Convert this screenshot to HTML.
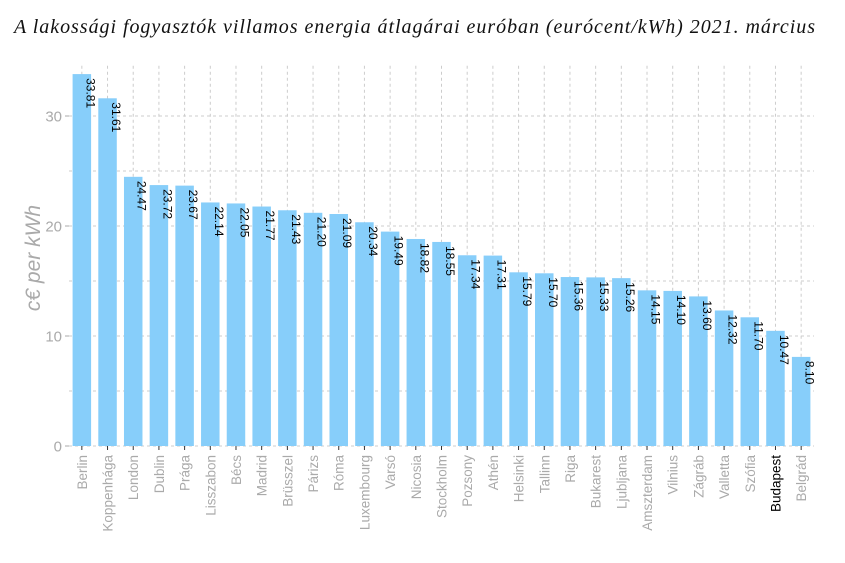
<!DOCTYPE html>
<html><head><meta charset="utf-8"><style>
body{margin:0;background:#fff;}
svg{display:block;font-family:"Liberation Sans",sans-serif;}
</style></head><body>
<svg id="chart" width="845" height="563" viewBox="0 0 845 563">
<text x="14" y="33" font-family="Liberation Serif, serif" font-style="italic" font-size="20" textLength="801" fill="#111">A lakossági fogyasztók villamos energia átlagárai euróban (eurócent/kWh) 2021. március</text>
<text transform="translate(40,258) rotate(-90)" text-anchor="middle" font-style="italic" font-size="21" fill="#aaa">c€ per kWh</text>
<g id="grid"></g><g id="bars"></g><g id="axes"></g>
</svg>
<script>
const categories=["Berlin","Koppenhága","London","Dublin","Prága","Lisszabon","Bécs","Madrid","Brüsszel","Párizs","Róma","Luxembourg","Varsó","Nicosia","Stockholm","Pozsony","Athén","Helsinki","Tallinn","Riga","Bukarest","Ljubljana","Amszterdam","Vilnius","Zágráb","Valletta","Szófia","Budapest","Belgrád"];
const values=[33.81,31.61,24.47,23.72,23.67,22.14,22.05,21.77,21.43,21.20,21.09,20.34,19.49,18.82,18.55,17.34,17.31,15.79,15.70,15.36,15.33,15.26,14.15,14.10,13.60,12.32,11.70,10.47,8.10];
const yTicks=[0,10,20,30];
const ns="http://www.w3.org/2000/svg";
const x0=69,x1=814,yBase=446,pxPerUnit=11.0,yMax=34.2;
const step=(x1-x0)/categories.length;
const xc=i=>x0+step*(i+0.5);
const y=v=>yBase-v*pxPerUnit;
function mk(t,a,p){const e=document.createElementNS(ns,t);for(const k in a)e.setAttribute(k,a[k]);p.appendChild(e);return e;}
const grid=document.getElementById('grid'),bars=document.getElementById('bars'),axes=document.getElementById('axes');
for(let v=0;v<=yMax;v+=5){const l=mk('line',{x1:x0,x2:x1,y1:y(v),y2:y(v),stroke:'#ccc','stroke-dasharray':'3,3'},grid);

}
categories.forEach((c,i)=>{const l=mk('line',{x1:xc(i),x2:xc(i),y1:y(yMax)-4,y2:yBase,stroke:'#ccc','stroke-dasharray':'3,3'},grid);

});
const bw=step*0.72;
categories.forEach((c,i)=>{
const r=mk('rect',{x:xc(i)-bw/2,y:y(values[i]),width:bw,height:yBase-y(values[i]),fill:'#87cefa'},bars);


const t=mk('text',{transform:`translate(${xc(i)+4.5},${y(values[i])+4}) rotate(90)`,'font-size':'12',fill:'#000'},bars);
t.textContent=values[i].toFixed(2);


const tk=mk('line',{x1:xc(i),x2:xc(i),y1:yBase,y2:yBase+4,stroke:'#333'},axes);


const lb=mk('text',{transform:`translate(${xc(i)+5},${yBase+9}) rotate(-90)`,'text-anchor':'end','font-size':'13.5',fill:c==='Budapest'?'#000':'#aaa'},axes);
lb.textContent=c;


});
yTicks.forEach(v=>{
const tk=mk('line',{x1:x0-4,x2:x0,y1:y(v),y2:y(v),stroke:'#aaa'},axes);


const t=mk('text',{x:x0-7,y:y(v)+5.5,'text-anchor':'end','font-size':'15',fill:'#aaa'},axes);
t.textContent=v;


});
</script>
</body></html>
